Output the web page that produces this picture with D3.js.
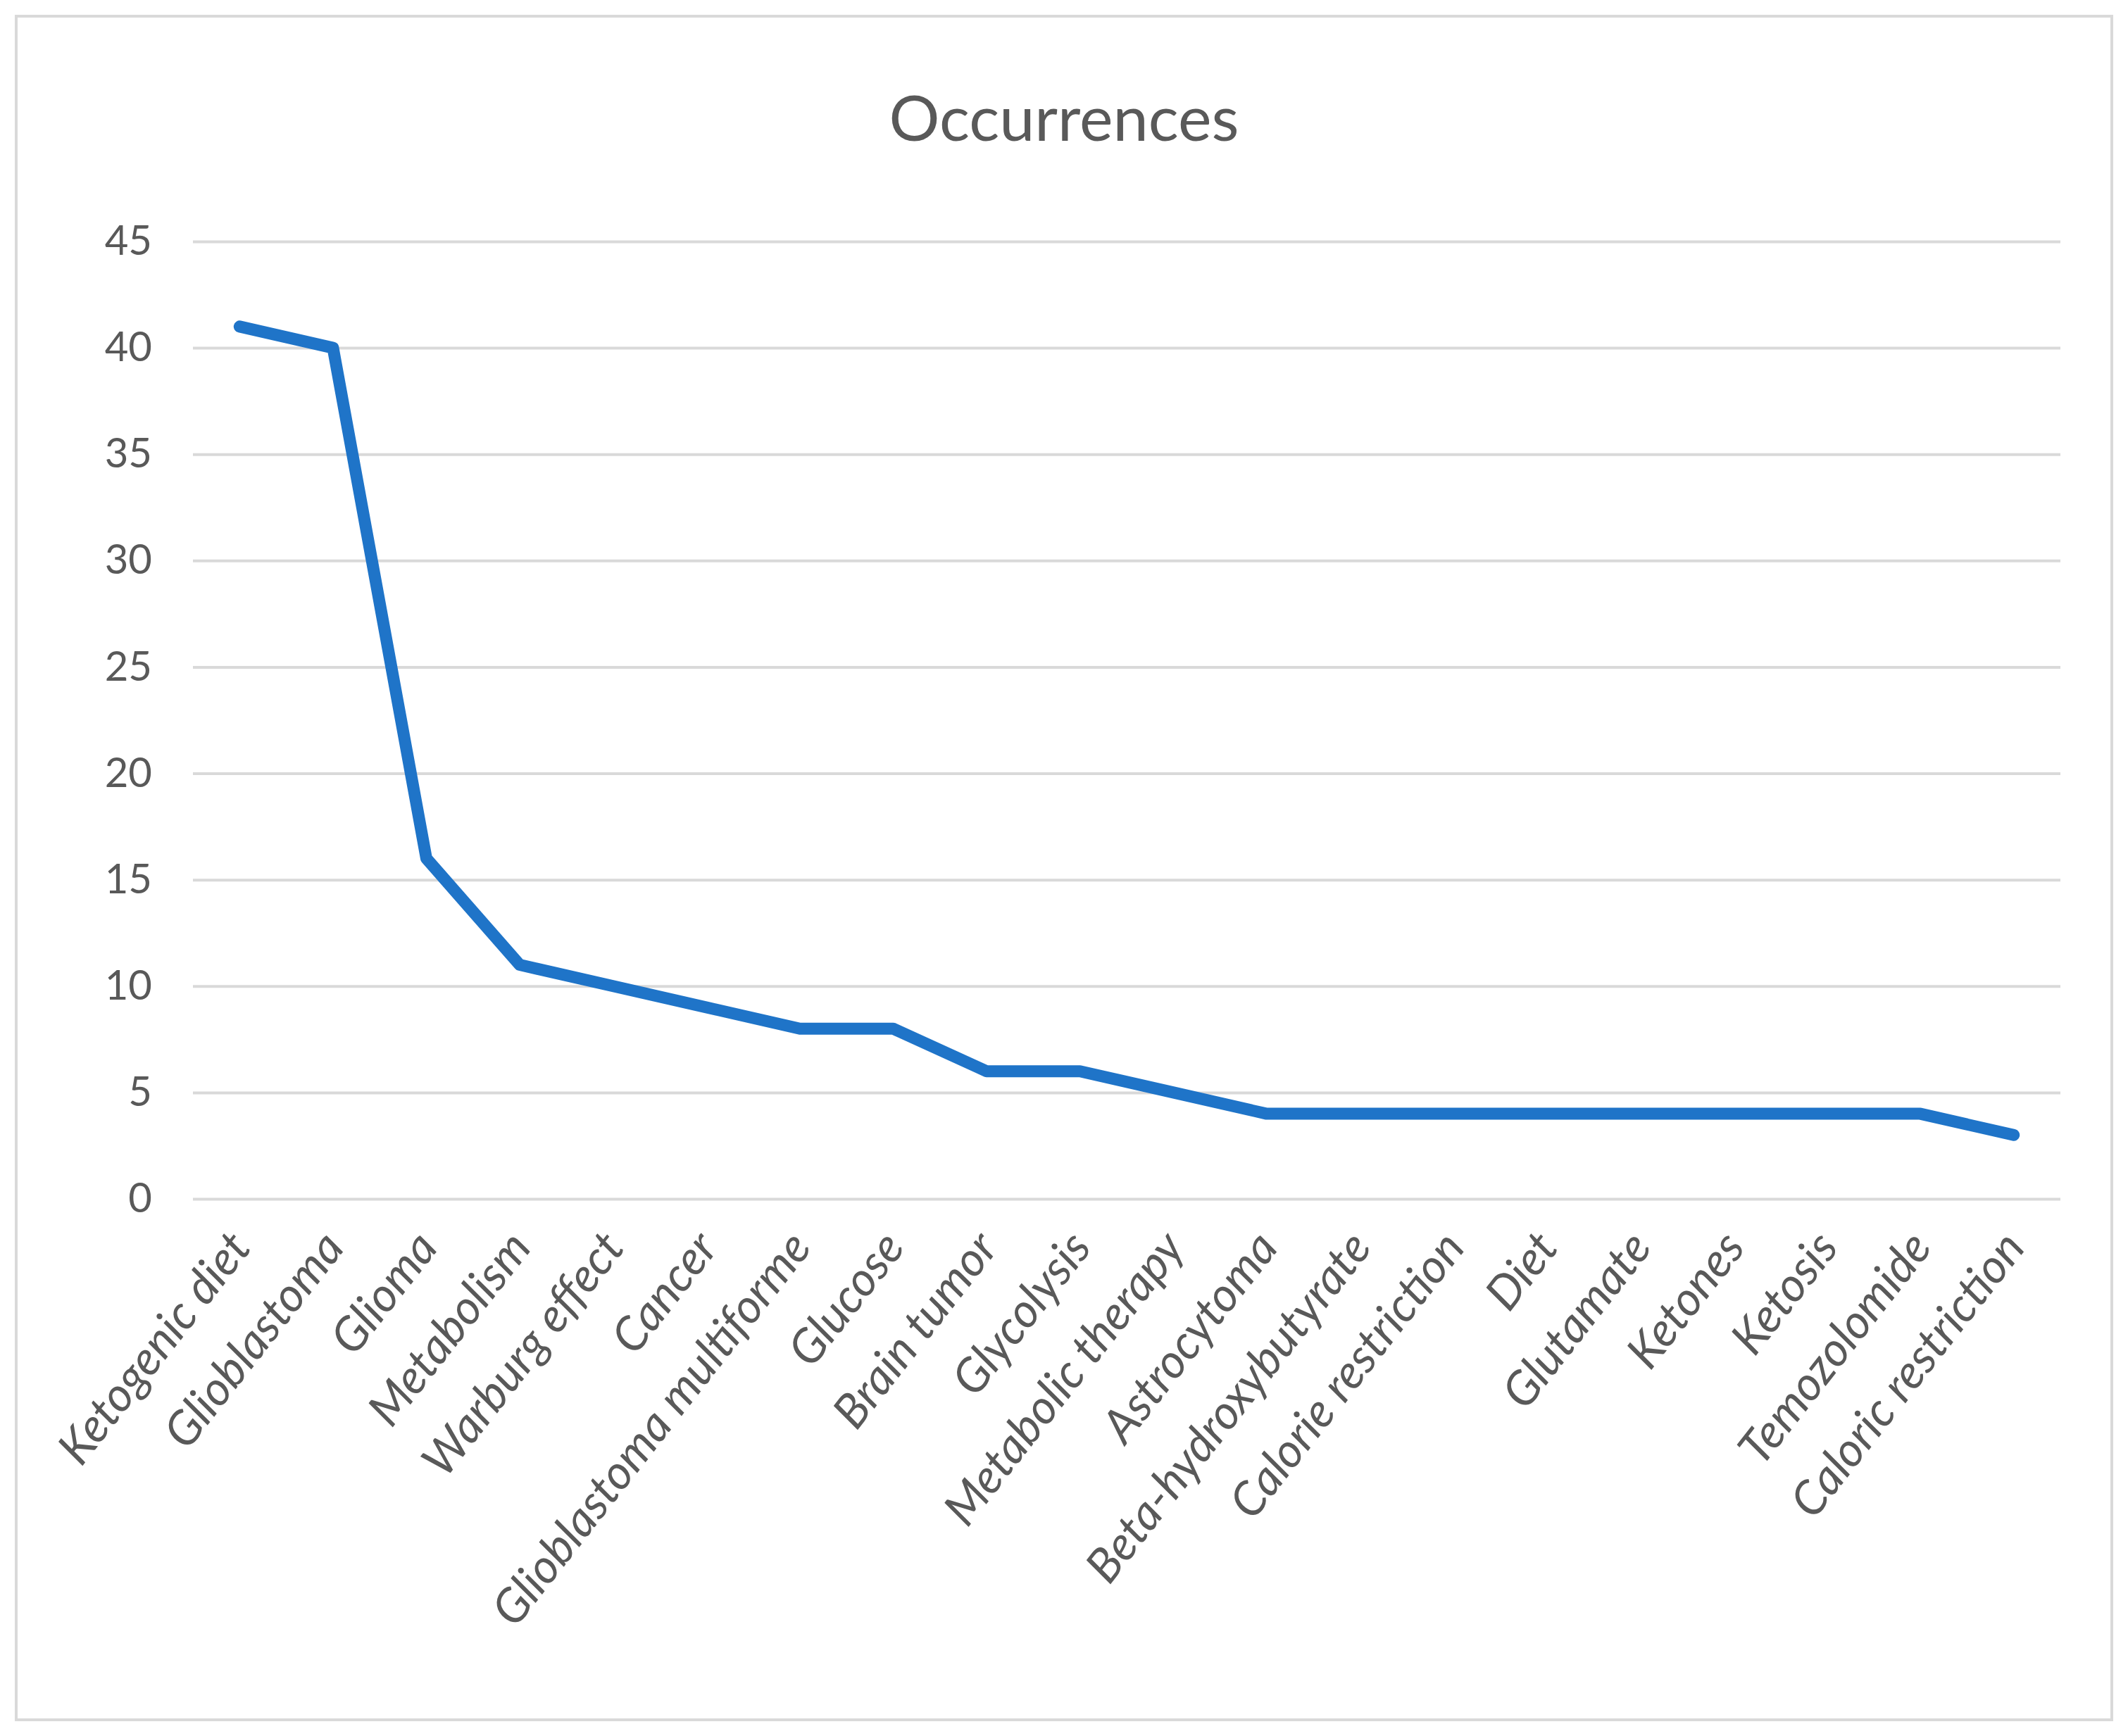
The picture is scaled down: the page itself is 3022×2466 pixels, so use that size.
<!DOCTYPE html>
<html>
<head>
<meta charset="utf-8">
<script src="https://cdn.jsdelivr.net/npm/d3@7"></script>
<style>
  body { margin: 0; background: #fff; }
  text { font-family: Lato, "Open Sans", sans-serif; fill: #595959; }
</style>
</head>
<body>
<svg id="chart"></svg>
<script>
const categories = ['Ketogenic diet', 'Glioblastoma', 'Glioma', 'Metabolism', 'Warburg effect', 'Cancer',
  'Glioblastoma multiforme', 'Glucose', 'Brain tumor', 'Glycolysis', 'Metabolic therapy', 'Astrocytoma',
  'Beta-hydroxybutyrate', 'Calorie restriction', 'Diet', 'Glutamate', 'Ketones', 'Ketosis',
  'Temozolomide', 'Caloric restriction'];
const occurrences = [41, 40, 16, 11, 10, 9, 8, 8, 6, 6, 5, 4, 4, 4, 4, 4, 4, 4, 4, 3];
const yTicks = [0, 5, 10, 15, 20, 25, 30, 35, 40, 45];

const W = 3022, H = 2466;
const margin = { top: 343, right: 96, bottom: 763, left: 274 };
const width = W - margin.left - margin.right;
const height = H - margin.top - margin.bottom;

const svg = d3.select('#chart').attr('width', W).attr('height', H);

// outer frame
svg.append('rect')
  .attr('x', 23).attr('y', 23).attr('width', W - 46).attr('height', H - 46)
  .attr('fill', 'none').attr('stroke', '#d9d9d9').attr('stroke-width', 4);

svg.append('text')
  .attr('x', W / 2).attr('y', 200)
  .attr('text-anchor', 'middle')
  .style('font-size', '90px')
  .text('Occurrences');

const g = svg.append('g').attr('transform', `translate(${margin.left},${margin.top})`);

const x = d3.scalePoint().domain(categories).range([0, width]).padding(0.5);
const y = d3.scaleLinear().domain([0, 45]).range([height, 0]);

// gridlines + y labels
const yAxis = g.append('g')
  .call(d3.axisLeft(y).tickValues(yTicks).tickSize(-width).tickPadding(58));
yAxis.select('.domain').remove();
yAxis.selectAll('line').attr('stroke', '#d9d9d9').attr('stroke-width', 4);
yAxis.selectAll('text').style('font-size', '58px').attr('fill', '#595959');

// x labels
const xAxis = g.append('g')
  .attr('transform', `translate(0,${height})`)
  .call(d3.axisBottom(x).tickSize(0).tickPadding(0));
xAxis.select('.domain').remove();
xAxis.selectAll('text')
  .style('font-size', '67px')
  .style('font-style', 'italic')
  .attr('fill', '#595959')
  .attr('text-anchor', 'end')
  .attr('dy', null)
  .attr('transform', 'translate(18,70) rotate(-52)');

const line = d3.line()
  .x((d, i) => x(categories[i]))
  .y(d => y(d));

g.append('path')
  .datum(occurrences)
  .attr('d', line)
  .attr('fill', 'none')
  .attr('stroke', '#1f74c8')
  .attr('stroke-width', 17)
  .attr('stroke-linejoin', 'round')
  .attr('stroke-linecap', 'round');
</script>
</body>
</html>
